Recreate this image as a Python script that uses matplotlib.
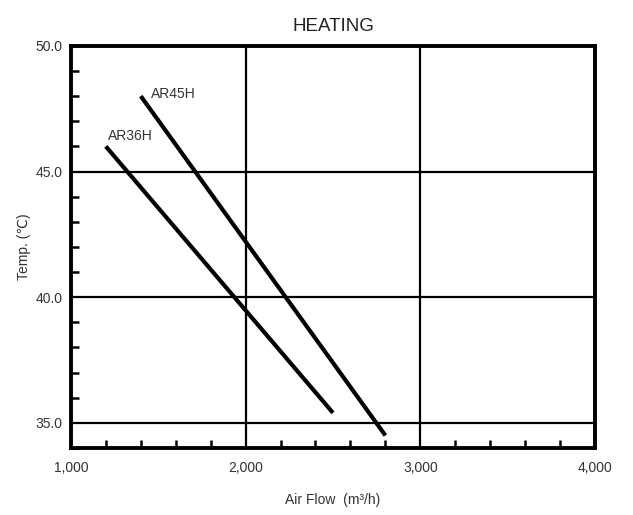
import matplotlib
matplotlib.use("Agg")
import matplotlib.pyplot as plt
from matplotlib.ticker import MultipleLocator, FixedLocator, FuncFormatter

plt.rcParams['font.family'] = ['Liberation Sans', 'DejaVu Sans']

series_names = ["AR36H", "AR45H"]
airflow = {"AR36H": [1200, 2500], "AR45H": [1400, 2800]}
temp = {"AR36H": [46.0, 35.4], "AR45H": [48.0, 34.5]}
label_pos = {"AR36H": (1210, 46.4), "AR45H": (1460, 48.1)}

x_ticks = [1000, 2000, 3000, 4000]
y_ticks = [35.0, 40.0, 45.0, 50.0]

fig = plt.figure(figsize=(6.33, 5.15), dpi=100)
ax = fig.add_axes([0.112, 0.130, 0.828, 0.781])

ax.set_xlim(1000, 4000)
ax.set_ylim(34, 50)

for g in [2000, 3000]:
    ax.axvline(g, color='black', lw=1.6, zorder=1)
for g in [35, 40, 45]:
    ax.axhline(g, color='black', lw=1.6, zorder=1)

for name in series_names:
    ax.plot(airflow[name], temp[name], color='black', lw=3.0, solid_capstyle='butt', zorder=3)
    lx, ly = label_pos[name]
    ax.text(lx, ly, name, fontsize=10, va='center', ha='left', color='#333333')

ax.xaxis.set_major_locator(FixedLocator(x_ticks))
ax.yaxis.set_major_locator(FixedLocator(y_ticks))
ax.xaxis.set_minor_locator(MultipleLocator(200))
ax.yaxis.set_minor_locator(MultipleLocator(1))
ax.xaxis.set_major_formatter(FuncFormatter(lambda v, p: f"{int(v):,}"))
ax.yaxis.set_major_formatter(FuncFormatter(lambda v, p: f"{v:.1f}"))

ax.tick_params(which='major', length=0, labelsize=10, colors='#333333')
ax.tick_params(axis='x', which='major', pad=9)
ax.tick_params(axis='y', which='major', pad=6)
ax.tick_params(which='minor', direction='in', length=6, width=1.8, color='black')
ax.tick_params(top=False, right=False)

for s in ax.spines.values():
    s.set_linewidth(2.8)
    s.set_color('black')

ax.set_title("HEATING", fontsize=13.5, pad=11, color='#222222')
ax.set_xlabel("Air Flow  (m³/h)", fontsize=10, labelpad=13, color='#333333')
ax.set_ylabel("Temp. (℃)", fontsize=10, labelpad=3, color='#333333')

fig.savefig("out.png", dpi=100)
